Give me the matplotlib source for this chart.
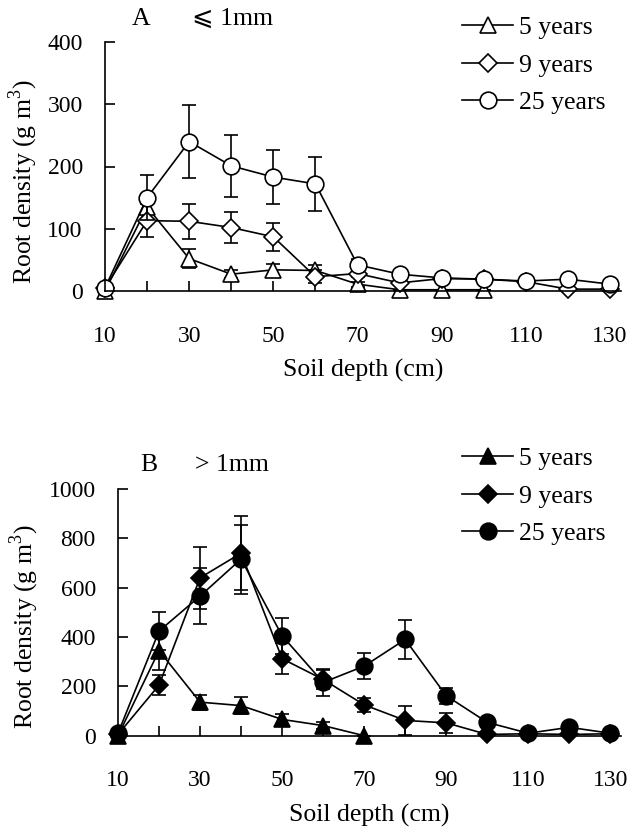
import matplotlib
matplotlib.use("Agg")
import matplotlib.pyplot as plt
from matplotlib.lines import Line2D

plt.rcParams["font.family"] = ["Liberation Serif", "DejaVu Sans"]
plt.rcParams["mathtext.fontset"] = "custom"
plt.rcParams["mathtext.rm"] = "Liberation Serif"

depth = [10, 20, 30, 40, 50, 60, 70, 80, 90, 100, 110, 120, 130]
depth_5 = [10, 20, 30, 40, 50, 60, 70, 80, 90, 100]
depth_5b = [10, 20, 30, 40, 50, 60, 70]

# panel A: fine roots (<= 1 mm)
a_5y = [0, 135, 52, 27, 34, 33, 11, 2, 2, 2]
a_5y_err = [0, 10, 15, 6, 10, 8, 4, 0, 0, 0]
a_9y = [5, 113, 112, 102, 87, 23, 28, 13, 20, 19, 15, 3, 3]
a_9y_err = [0, 27, 28, 25, 22, 10, 6, 4, 3, 3, 3, 0, 0]
a_25y = [5, 150, 240, 201, 183, 172, 42, 27, 21, 19, 16, 19, 11]
a_25y_err = [0, 36, 59, 50, 44, 43, 10, 5, 3, 3, 3, 3, 2]

# panel B: coarse roots (> 1 mm)
b_5y = [0, 345, 136, 122, 66, 41, 0]
b_5y_err = [0, 80, 30, 33, 20, 15, 0]
b_9y = [5, 205, 640, 740, 312, 228, 125, 62, 52, 5, 8, 5, 8]
b_9y_err = [0, 40, 126, 150, 62, 37, 28, 60, 40, 0, 0, 0, 0]
b_25y = [10, 424, 566, 716, 405, 216, 282, 390, 162, 54, 10, 34, 10]
b_25y_err = [0, 76, 113, 140, 73, 55, 52, 78, 33, 8, 3, 6, 3]

labels = ["5 years", "9 years", "25 years"]
markers = ["^", "D", "o"]
msizes = [12, 9.5, 12]

fig = plt.figure(figsize=(6.34, 8.33), dpi=100)
axA = fig.add_axes([105 / 634, 1 - 291 / 833, (621 - 105) / 634, (291 - 42) / 833])
axB = fig.add_axes([118 / 634, 1 - 735.7 / 833, (621 - 118) / 634, (735.7 - 489) / 833])


def draw(ax, series, filled):
    fc = "black" if filled else "white"
    for (x, y, e), m, ms in zip(series, markers, msizes):
        ax.errorbar(x, y, yerr=e, fmt="none", ecolor="black", elinewidth=1.2,
                    capsize=5, capthick=1.2, clip_on=False)
        ax.plot(x, y, color="black", lw=1.2, marker=m, ms=ms, mfc=fc,
                mec="black", mew=1.2, clip_on=False)
    ax.set_xlim(10, 132.6)
    ax.set_xticks(range(10, 131, 20))
    ax.set_xticks(range(20, 130, 20), minor=True)
    for s in ["top", "right"]:
        ax.spines[s].set_visible(False)
    for s in ["left", "bottom"]:
        ax.spines[s].set_linewidth(1.2)
    ax.tick_params(which="both", direction="in", length=7, width=1.2,
                   labelsize=17, pad=16)
    ax.tick_params(axis="x", pad=25)
    ax.set_xlabel("Soil depth (cm)", fontsize=18.5, labelpad=9)
    ax.set_ylabel("Root density (g m$^{3}$)", fontsize=18.5)
    handles = [Line2D([], [], color="black", lw=1.2, marker=m, ms=ms, mfc=fc,
                      mec="black", mew=1.2) for m, ms in zip(markers, msizes)]
    return handles


hA = draw(axA, [(depth_5, a_5y, a_5y_err), (depth, a_9y, a_9y_err),
                (depth, a_25y, a_25y_err)], False)
axA.set_ylim(0, 400)
axA.set_yticks(range(0, 401, 100))
axA.yaxis.set_label_coords(-0.125, 0.44)

hB = draw(axB, [(depth_5b, b_5y, b_5y_err), (depth, b_9y, b_9y_err),
                (depth, b_25y, b_25y_err)], True)
axB.set_ylim(0, 1000)
axB.set_yticks(range(0, 1001, 200))
axB.yaxis.set_label_coords(-0.153, 0.44)

legend_kw = dict(loc="upper left", frameon=False, fontsize=18.5, handlelength=2.0,
                 handletextpad=0.2, labelspacing=0.57, borderaxespad=0, borderpad=0)
fig.legend(hA, labels, bbox_to_anchor=(462 / 634, 1 - 16 / 833), **legend_kw)
fig.legend(hB, labels, bbox_to_anchor=(462 / 634, 1 - 447 / 833), **legend_kw)

fig.text(132 / 634, 1 - 19 / 833, "A", fontsize=18.5, va="center")
fig.text(192 / 634, 1 - 19 / 833, "⩽ 1mm", fontsize=18.5, va="center")
fig.text(140 / 634, 1 - 465 / 833, "B", fontsize=18.5, va="center")
fig.text(195 / 634, 1 - 465 / 833, "> 1mm", fontsize=18.5, va="center")

fig.savefig("out.png", dpi=100)
